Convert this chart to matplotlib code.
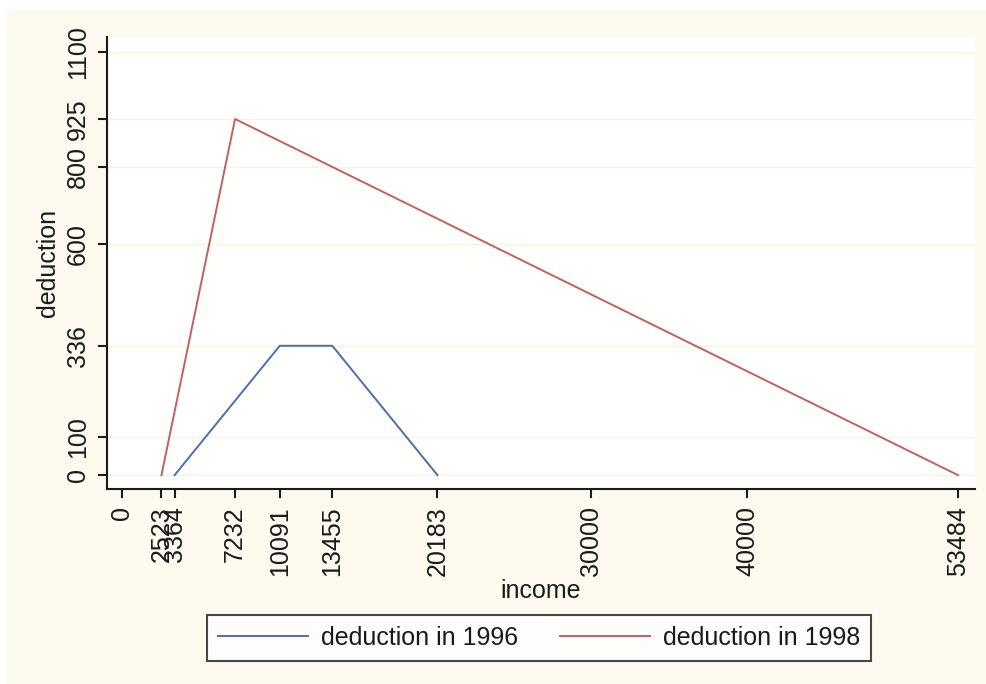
#!/usr/bin/env python3
"""Deduction schedules by income, 1996 vs 1998."""

import matplotlib
matplotlib.use("Agg")
import matplotlib.pyplot as plt
from matplotlib.patches import Rectangle

# kink points of the two schedules
income_1996 = [3364, 10091, 13455, 20183]
deduction_1996 = [0, 336, 336, 0]
income_1998 = [2523, 7232, 53484]
deduction_1998 = [0, 925, 0]

x_ticks = [0, 2523, 3364, 7232, 10091, 13455, 20183, 30000, 40000, 53484]
y_ticks = [0, 100, 336, 600, 800, 925, 1100]

BLUE = "#4a6fb0"
RED = "#c4605f"
CREAM = "#fffaf0"
TEXT = "#1a1a1a"

plt.rcParams["font.family"] = ["Liberation Sans", "DejaVu Sans"]
plt.rcParams["font.size"] = 18

W, H = 987, 684
fig = plt.figure(figsize=(W / 100, H / 100), dpi=100, facecolor="white")
fig.patches.append(Rectangle((7 / W, 0), 1 - 7 / W, 1 - 10 / H,
                             transform=fig.transFigure, facecolor=CREAM,
                             edgecolor="none", zorder=-10))

left, right, top, bottom = 107, 975, 37, 489
ax = fig.add_axes((left / W, 1 - bottom / H, (right - left) / W,
                   (bottom - top) / H))
ax.set_facecolor("#fffffe")

ax.plot(income_1996, deduction_1996, color=BLUE, lw=1.4,
        label="deduction in 1996")
ax.plot(income_1998, deduction_1998, color=RED, lw=1.4,
        label="deduction in 1998")

ax.set_xlim(-960, 54572)
ax.set_ylim(-36, 1138)
ax.set_xticks(x_ticks, [str(v) for v in x_ticks], rotation=90)
ax.set_yticks(y_ticks, [str(v) for v in y_ticks], rotation=90, va="center")
ax.grid(axis="y", color="#f8f2e0", lw=1)
ax.set_axisbelow(True)

for side in ("top", "right"):
    ax.spines[side].set_visible(False)
for side in ("left", "bottom"):
    ax.spines[side].set_linewidth(1.5)
    ax.spines[side].set_color(TEXT)
ax.tick_params(length=6.5, width=1.5, pad=6, colors=TEXT, labelcolor=TEXT)

ax.set_xlabel("income", color=TEXT, labelpad=2)
ax.set_ylabel("deduction", color=TEXT, labelpad=4)

leg = fig.legend(loc="center", bbox_to_anchor=(539 / W, 1 - 638 / H),
                 ncol=2, frameon=True, fancybox=False, handlelength=3.6,
                 handletextpad=0.5, columnspacing=1.7, borderpad=0.45,
                 labelcolor=TEXT)
leg.get_frame().set_edgecolor(TEXT)
leg.get_frame().set_linewidth(1.5)
leg.get_frame().set_facecolor("white")

fig.savefig("out.png", dpi=100, facecolor=fig.get_facecolor())
